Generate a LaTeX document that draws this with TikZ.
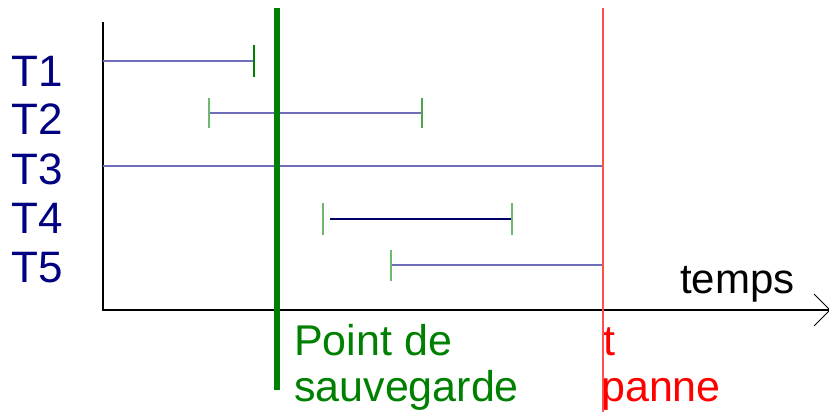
\documentclass[tikz,border=0pt]{standalone}
\usepackage{fontspec}
\setmainfont{Liberation Sans}
\begin{document}
\begin{tikzpicture}[x=1pt,y=-1pt,
  lbl/.style={inner sep=0pt,anchor=base west,font=\fontsize{44}{50}\selectfont,text=navyc},
  txt/.style={inner sep=0pt,anchor=base west,font=\fontsize{42}{46}\selectfont},
  bigtxt/.style={inner sep=0pt,anchor=base west,font=\fontsize{43}{46}\selectfont},
  axis/.style={draw=black,line width=1.3pt},
  span/.style={draw=spanc,line width=1.6pt}]
\definecolor{navyc}{RGB}{0,0,128}
\definecolor{spanc}{RGB}{110,110,185}
\definecolor{tkc}{RGB}{0,128,0}
\definecolor{tklight}{RGB}{110,185,110}
\definecolor{redl}{RGB}{255,80,80}
\useasboundingbox (0,0) rectangle (829,412);
% axes
\coordinate (otop) at (103,22);
\coordinate (o) at (103,310);
\coordinate (xend) at (829,310);
\coordinate (ar1) at (814,294);
\coordinate (ar2) at (830,310);
\coordinate (ar3) at (814,326);
\draw[axis] (otop) -- (o) -- (xend);
\draw[draw=black,line width=1pt] (ar1) -- (ar2) -- (ar3);
% labels
\node[lbl] (t1) at (11,86) {T1};
\node[lbl] (t2) at (11,134) {T2};
\node[lbl] (t3) at (11,184) {T3};
\node[lbl] (t4) at (11,233) {T4};
\node[lbl] (t5) at (11,282) {T5};
\node[txt,text=black] (temps) at (680,293) {temps};
\node[bigtxt,text=tkc] (pt1) at (294,355) {Point de};
\node[bigtxt,text=tkc] (pt2) at (294,401) {sauvegarde};
\node[bigtxt,text=red] (tp1) at (603,355) {t};
\node[bigtxt,text=red] (tp2) at (601,401) {panne};
% spans
\coordinate (a1) at (103,61); \coordinate (b1) at (254,61);
\coordinate (a2) at (209,113); \coordinate (b2) at (422,113);
\coordinate (a3) at (103,166); \coordinate (b3) at (603,166);
\coordinate (a4) at (330,219); \coordinate (b4) at (512,219);
\coordinate (a5) at (391,265); \coordinate (b5) at (603,265);
\draw[span] (a1) -- (b1);
\draw[span] (a2) -- (b2);
\draw[span] (a3) -- (b3);
\draw[draw=navyc!80!black,line width=1.5pt] (a4) -- (b4);
\draw[span] (a5) -- (b5);
% ticks
\draw[draw=tkc,line width=1.5pt] ([yshift=-16]b1) -- ([yshift=16]b1);
\draw[draw=tklight,line width=1.8pt] ([yshift=-15]a2) -- ([yshift=15]a2);
\draw[draw=tkc!70!white,line width=1.5pt] ([yshift=-15]b2) -- ([yshift=15]b2);
\coordinate (a4t) at (323,219);
\draw[draw=tklight,line width=1.8pt] ([yshift=-16]a4t) -- ([yshift=16]a4t);
\draw[draw=tklight,line width=1.8pt] ([yshift=-16]b4) -- ([yshift=16]b4);
\draw[draw=tklight,line width=1.8pt] ([yshift=-16]a5) -- ([yshift=15]a5);
% save point and crash lines
\coordinate (gtop) at (277,8); \coordinate (gbot) at (277,390);
\coordinate (rtop) at (603,8); \coordinate (rbot) at (603,412);
\draw[draw=tkc,line width=6pt] (gtop) -- (gbot);
\draw[draw=redl,line width=1.4pt] (rtop) -- (rbot);
\end{tikzpicture}
\end{document}
